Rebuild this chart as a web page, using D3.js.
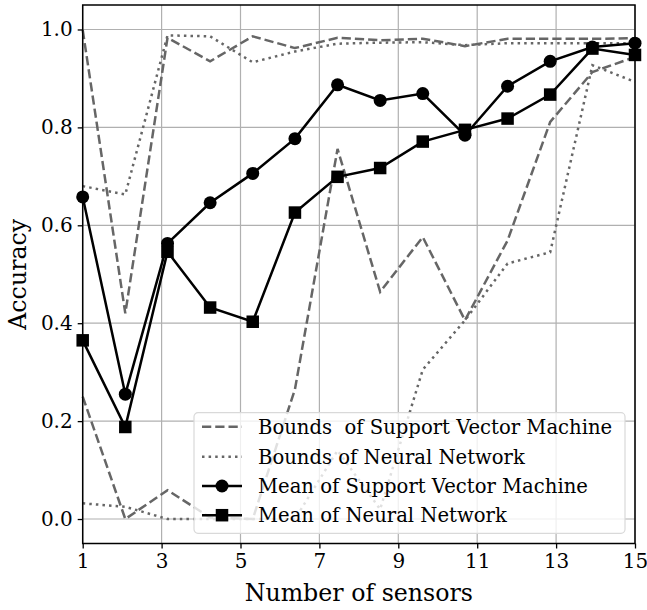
<!DOCTYPE html>
<html>
<head>
<meta charset="utf-8">
<script src="https://cdn.jsdelivr.net/npm/d3@7"></script>
<style>
  body { margin: 0; background: #fff; }
  svg text { font-family: "DejaVu Serif", serif; fill: #000; }
  .grid line { stroke: #b0b0b0; stroke-width: 1.2; }
</style>
</head>
<body>
<script>
// sensors on x axis
var sensors = [1, 2.08, 3.15, 4.23, 5.31, 6.38, 7.46, 8.54, 9.62, 10.69, 11.77, 12.85, 13.92, 15];

var svmMean = [0.658, 0.255, 0.563, 0.646, 0.706, 0.777, 0.887, 0.855, 0.869, 0.784, 0.884, 0.935, 0.964, 0.972];
var nnMean  = [0.365, 0.188, 0.546, 0.432, 0.403, 0.626, 0.699, 0.717, 0.771, 0.795, 0.818, 0.867, 0.961, 0.948];

var svmUpper = [0.999, 0.42, 0.983, 0.935, 0.986, 0.962, 0.983, 0.978, 0.981, 0.966, 0.981, 0.981, 0.981, 0.982];
var svmLower = [0.25, 0.0, 0.059, 0.003, 0.0, 0.265, 0.756, 0.464, 0.576, 0.406, 0.569, 0.811, 0.913, 0.944];
var nnUpper  = [0.68, 0.663, 0.988, 0.986, 0.933, 0.955, 0.971, 0.973, 0.974, 0.968, 0.972, 0.972, 0.972, 0.972];
var nnLower  = [0.032, 0.025, 0.0, 0.0, 0.0, 0.0, 0.14, 0.02, 0.305, 0.406, 0.522, 0.545, 0.927, 0.893];

var xTicks = [1, 3, 5, 7, 9, 11, 13, 15];
var yTicks = [0.0, 0.2, 0.4, 0.6, 0.8, 1.0];

var legendLabels = ["Bounds  of Support Vector Machine", "Bounds of Neural Network",
                    "Mean of Support Vector Machine", "Mean of Neural Network"];

var W = 647, H = 610;
var margin = {top: 5, right: 12, bottom: 66.5, left: 82.7};

var svg = d3.select("body").append("svg")
    .attr("width", W)
    .attr("height", H);

var x = d3.scaleLinear().domain([1, 15]).range([margin.left, W - margin.right]);
var y = d3.scaleLinear().domain([-0.05, 1.05]).range([H - margin.bottom, margin.top]);

// grid
var grid = svg.append("g").attr("class", "grid");
grid.selectAll(".gx").data(xTicks).enter().append("line")
    .attr("x1", d => x(d)).attr("x2", d => x(d))
    .attr("y1", y.range()[0]).attr("y2", y.range()[1]);
grid.selectAll(".gy").data(yTicks).enter().append("line")
    .attr("y1", d => y(d)).attr("y2", d => y(d))
    .attr("x1", x.range()[0]).attr("x2", x.range()[1]);

var line = d3.line().x((d, i) => x(sensors[i])).y(d => y(d));

function bound(data, dash) {
  svg.append("path")
     .datum(data)
     .attr("d", line)
     .attr("fill", "none")
     .attr("stroke", "#666666")
     .attr("stroke-width", 2.5)
     .attr("stroke-dasharray", dash);
}
bound(svmUpper, "9.25,4");
bound(svmLower, "9.25,4");
bound(nnUpper, "2.5,4.1");
bound(nnLower, "2.5,4.1");

function meanLine(data) {
  svg.append("path")
     .datum(data)
     .attr("d", line)
     .attr("fill", "none")
     .attr("stroke", "#000")
     .attr("stroke-width", 2.5);
}
meanLine(svmMean);
meanLine(nnMean);

svg.selectAll(".circ").data(svmMean).enter().append("circle")
   .attr("cx", (d, i) => x(sensors[i]))
   .attr("cy", d => y(d))
   .attr("r", 6.5)
   .attr("fill", "#000");

var sq = 12.5;
svg.selectAll(".sq").data(nnMean).enter().append("rect")
   .attr("x", (d, i) => x(sensors[i]) - sq / 2)
   .attr("y", d => y(d) - sq / 2)
   .attr("width", sq).attr("height", sq)
   .attr("fill", "#000");

// axes
var xAxis = svg.append("g")
   .attr("transform", "translate(0," + (H - margin.bottom) + ")")
   .call(d3.axisBottom(x).tickValues(xTicks).tickFormat(d3.format("d")).tickSizeOuter(0).tickSize(5).tickPadding(5));
var yAxis = svg.append("g")
   .attr("transform", "translate(" + margin.left + ",0)")
   .call(d3.axisLeft(y).tickValues(yTicks).tickFormat(d3.format(".1f")).tickSizeOuter(0).tickSize(5).tickPadding(5));
[xAxis, yAxis].forEach(function(a) {
  a.attr("font-family", "DejaVu Serif").attr("font-size", 20);
  a.selectAll("text").style("font-size", "20px").style("font-family", "'DejaVu Serif', serif");
  a.selectAll("line").attr("stroke", "#000").attr("stroke-width", 1.3);
  a.select(".domain").remove();
});

// frame
svg.append("rect")
   .attr("x", margin.left).attr("y", margin.top)
   .attr("width", W - margin.left - margin.right)
   .attr("height", H - margin.top - margin.bottom)
   .attr("fill", "none").attr("stroke", "#000").attr("stroke-width", 1.5);

// labels
svg.append("text")
   .attr("x", (x.range()[0] + x.range()[1]) / 2)
   .attr("y", 601)
   .attr("text-anchor", "middle")
   .style("font-size", "23.7px")
   .text("Number of sensors");

svg.append("text")
   .attr("transform", "translate(26," + ((y.range()[0] + y.range()[1]) / 2) + ") rotate(-90)")
   .attr("text-anchor", "middle")
   .style("font-size", "23.7px")
   .text("Accuracy");

// legend
var lg = svg.append("g").attr("transform", "translate(194,412.7)");
lg.append("rect")
  .attr("width", 431).attr("height", 120.6)
  .attr("rx", 4)
  .attr("fill", "#fff").attr("fill-opacity", 0.8)
  .attr("stroke", "#d9d9d9").attr("stroke-width", 1.2);

var rowY = [14, 44, 73.3, 102.5];
legendLabels.forEach(function(lab, i) {
  var g = lg.append("g").attr("transform", "translate(0," + rowY[i] + ")");
  var l = g.append("line").attr("x1", 8).attr("x2", 48).attr("y1", 0).attr("y2", 0);
  if (i < 2) {
    l.attr("stroke", "#666666").attr("stroke-width", 2.5)
     .attr("stroke-dasharray", i === 0 ? "9.25,4" : "2.5,4.1");
  } else {
    l.attr("stroke", "#000").attr("stroke-width", 2.5);
    if (i === 2) g.append("circle").attr("cx", 28).attr("cy", 0).attr("r", 6.5).attr("fill", "#000");
    else g.append("rect").attr("x", 28 - sq / 2).attr("y", -sq / 2).attr("width", sq).attr("height", sq).attr("fill", "#000");
  }
  g.append("text")
   .attr("x", 64)
   .attr("y", 7)
   .style("font-size", "19.6px")
   .style("white-space", "pre")
   .text(lab);
});
</script>
</body>
</html>
